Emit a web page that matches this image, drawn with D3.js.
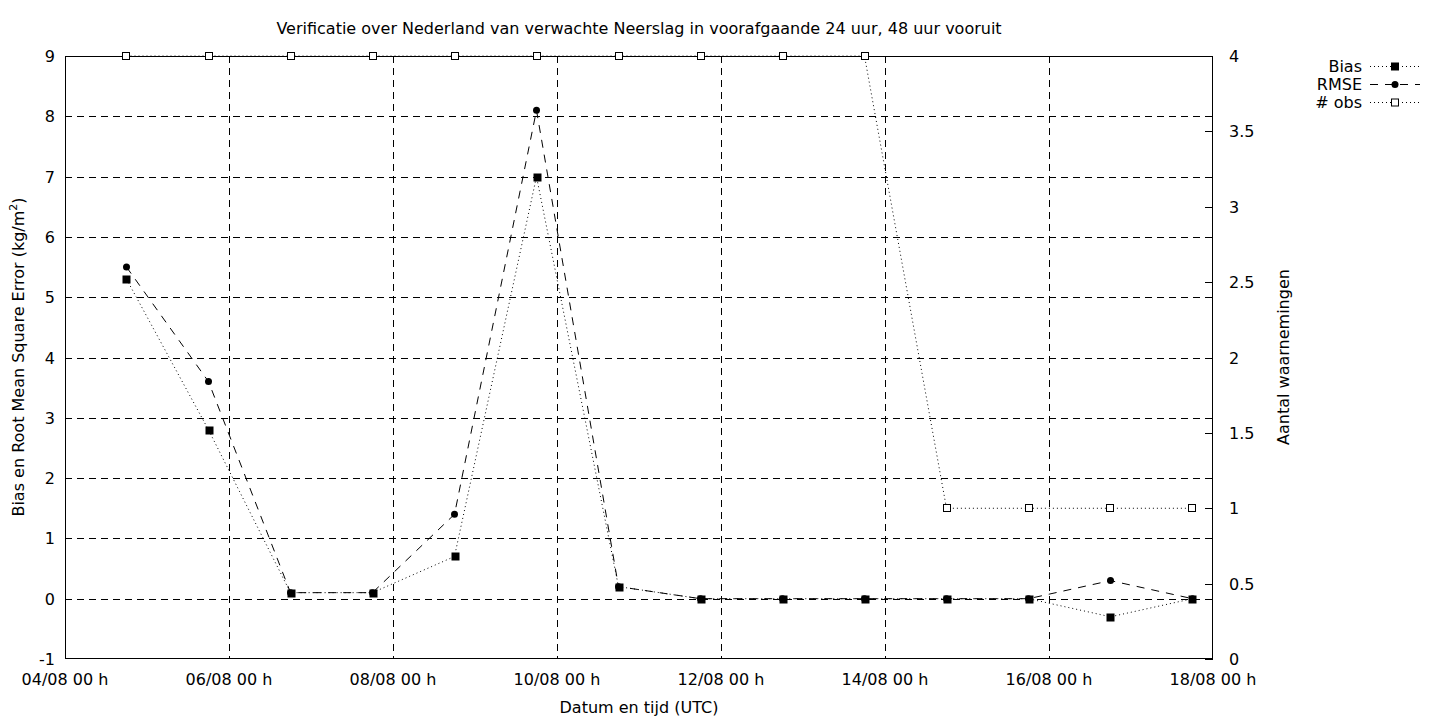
<!DOCTYPE html>
<html><head><meta charset="utf-8">
<script src="https://cdn.jsdelivr.net/npm/d3@7"></script>
<style>
body{margin:0;background:#fff;}
text{font-family:"DejaVu Sans",sans-serif;font-size:16px;fill:#000;}
</style></head>
<body><svg id="c" width="1440" height="720"></svg>
<script>
const times = ["2020-08-04T18:00Z","2020-08-05T18:00Z","2020-08-06T18:00Z","2020-08-07T18:00Z","2020-08-08T18:00Z","2020-08-09T18:00Z","2020-08-10T18:00Z","2020-08-11T18:00Z","2020-08-12T18:00Z","2020-08-13T18:00Z","2020-08-14T18:00Z","2020-08-15T18:00Z","2020-08-16T18:00Z","2020-08-17T18:00Z"];
const bias = [5.3, 2.8, 0.1, 0.1, 0.7, 7.0, 0.2, 0.0, 0.0, 0.0, 0.0, 0.0, -0.3, 0.0];
const rmse = [5.5, 3.6, 0.1, 0.1, 1.4, 8.1, 0.2, 0.0, 0.0, 0.0, 0.0, 0.0, 0.3, 0.0];
const nobs = [4, 4, 4, 4, 4, 4, 4, 4, 4, 4, 1, 1, 1, 1];
const xDomain = ["2020-08-04T00:00Z","2020-08-18T00:00Z"];
const xTickTimes = ["2020-08-04T00:00Z","2020-08-06T00:00Z","2020-08-08T00:00Z","2020-08-10T00:00Z","2020-08-12T00:00Z","2020-08-14T00:00Z","2020-08-16T00:00Z","2020-08-18T00:00Z"];
const yTicks = [-1,0,1,2,3,4,5,6,7,8,9];
const y2Ticks = [0,0.5,1,1.5,2,2.5,3,3.5,4];
const title = "Verificatie over Nederland van verwachte Neerslag in voorafgaande 24 uur, 48 uur vooruit";
const xLabel = "Datum en tijd (UTC)";
const y2Label = "Aantal waarnemingen";
const legendNames = ["Bias","RMSE","# obs"];

const svg = d3.select("#c");
const L=65, R=1213, T=56, B=659;
const dates = times.map(t=>new Date(t));
const x = d3.scaleUtc().domain(xDomain.map(t=>new Date(t))).range([L,R]);
const y = d3.scaleLinear().domain([-1,9]).range([B,T]);
const y2 = d3.scaleLinear().domain([0,4]).range([B,T]);
const xTicks = xTickTimes.map(t=>new Date(t));
const fmt = d3.utcFormat("%d/%m %H h");

// grid
const g = svg.append("g");
g.selectAll("line.gy").data(yTicks.filter(v=>v>-1&&v<9)).join("line")
  .attr("x1",L).attr("x2",R).attr("y1",d=>Math.round(y(d))+0.5).attr("y2",d=>Math.round(y(d))+0.5)
  .attr("stroke","#000").attr("stroke-dasharray","7,5");
g.selectAll("line.gx").data(xTicks.filter(d=>+d>+x.domain()[0]&&+d<+x.domain()[1])).join("line")
  .attr("y1",T).attr("y2",B).attr("x1",d=>Math.round(x(d))+0.5).attr("x2",d=>Math.round(x(d))+0.5)
  .attr("stroke","#000").attr("stroke-dasharray","7,5");

// right ticks
svg.append("g").selectAll("line").data(y2Ticks).join("line")
  .attr("x1",R-8).attr("x2",R).attr("y1",d=>Math.round(y2(d))+0.5).attr("y2",d=>Math.round(y2(d))+0.5)
  .attr("stroke","#000");

// frame
svg.append("rect").attr("x",L+0.5).attr("y",T+0.5).attr("width",R-L-1).attr("height",B-T-1)
  .attr("fill","none").attr("stroke","#000");

// tick labels
svg.append("g").selectAll("text").data(yTicks).join("text")
  .attr("x",55).attr("y",d=>y(d)+6).attr("text-anchor","end").text(d=>d);
svg.append("g").selectAll("text").data(y2Ticks).join("text")
  .attr("x",1229).attr("y",d=>y2(d)+6).attr("text-anchor","start").text(d=>d);
svg.append("g").selectAll("text").data(xTicks).join("text")
  .attr("x",d=>x(d)).attr("y",685).attr("text-anchor","middle").text(d=>fmt(d));

// titles
svg.append("text").attr("x",639).attr("y",34).attr("text-anchor","middle").text(title);
svg.append("text").attr("x",639).attr("y",713).attr("text-anchor","middle").text(xLabel);
const yl = svg.append("text").attr("transform","translate(24,357) rotate(-90)").attr("text-anchor","middle");
yl.append("tspan").text("Bias en Root Mean Square Error (kg/m");
yl.append("tspan").attr("dy",-7).attr("font-size","11px").text("2");
yl.append("tspan").attr("dy",7).text(")");
svg.append("text").attr("transform","translate(1289,357) rotate(-90)").attr("text-anchor","middle").text(y2Label);

// series
const lineB = d3.line().x((d,i)=>x(dates[i])).y(d=>y(d));
const lineO = d3.line().x((d,i)=>x(dates[i])).y(d=>y2(d));
svg.append("path").datum(bias).attr("d",lineB).attr("fill","none").attr("stroke","#000").attr("stroke-dasharray","1,3");
svg.append("path").datum(rmse).attr("d",lineB).attr("fill","none").attr("stroke","#000").attr("stroke-dasharray","8,7");
svg.append("path").datum(nobs).attr("d",lineO).attr("fill","none").attr("stroke","#000").attr("stroke-dasharray","1,3");

svg.append("g").selectAll("circle").data(rmse).join("circle")
  .attr("cx",(d,i)=>x(dates[i])).attr("cy",d=>y(d)).attr("r",3.5).attr("fill","#000");
svg.append("g").selectAll("rect").data(bias).join("rect")
  .attr("x",(d,i)=>Math.round(x(dates[i]))-3.5).attr("y",d=>Math.round(y(d))-3.5).attr("width",8).attr("height",8).attr("fill","#000");
svg.append("g").selectAll("rect").data(nobs).join("rect")
  .attr("x",(d,i)=>Math.round(x(dates[i]))-3.5).attr("y",d=>Math.round(y2(d))-3.5).attr("width",7).attr("height",7)
  .attr("fill","#fff").attr("stroke","#000");

// legend
const styles = [{dash:"1,3",m:"sq"},{dash:"8,7",m:"ci"},{dash:"1,3",m:"open"}];
const lg = svg.append("g");
legendNames.forEach((n,i)=>{
  const yy = 66 + i*18;
  lg.append("text").attr("x",1362).attr("y",yy+6).attr("text-anchor","end").text(n);
  lg.append("line").attr("x1",1370).attr("x2",1420).attr("y1",yy+0.5).attr("y2",yy+0.5)
    .attr("stroke","#000").attr("stroke-dasharray",styles[i].dash);
  if(styles[i].m==="sq") lg.append("rect").attr("x",1391).attr("y",yy-3.5).attr("width",8).attr("height",8).attr("fill","#000");
  if(styles[i].m==="ci") lg.append("circle").attr("cx",1395).attr("cy",yy+0.5).attr("r",3.5).attr("fill","#000");
  if(styles[i].m==="open") lg.append("rect").attr("x",1391.5).attr("y",yy-3).attr("width",7).attr("height",7).attr("fill","#fff").attr("stroke","#000");
});
</script></body></html>
